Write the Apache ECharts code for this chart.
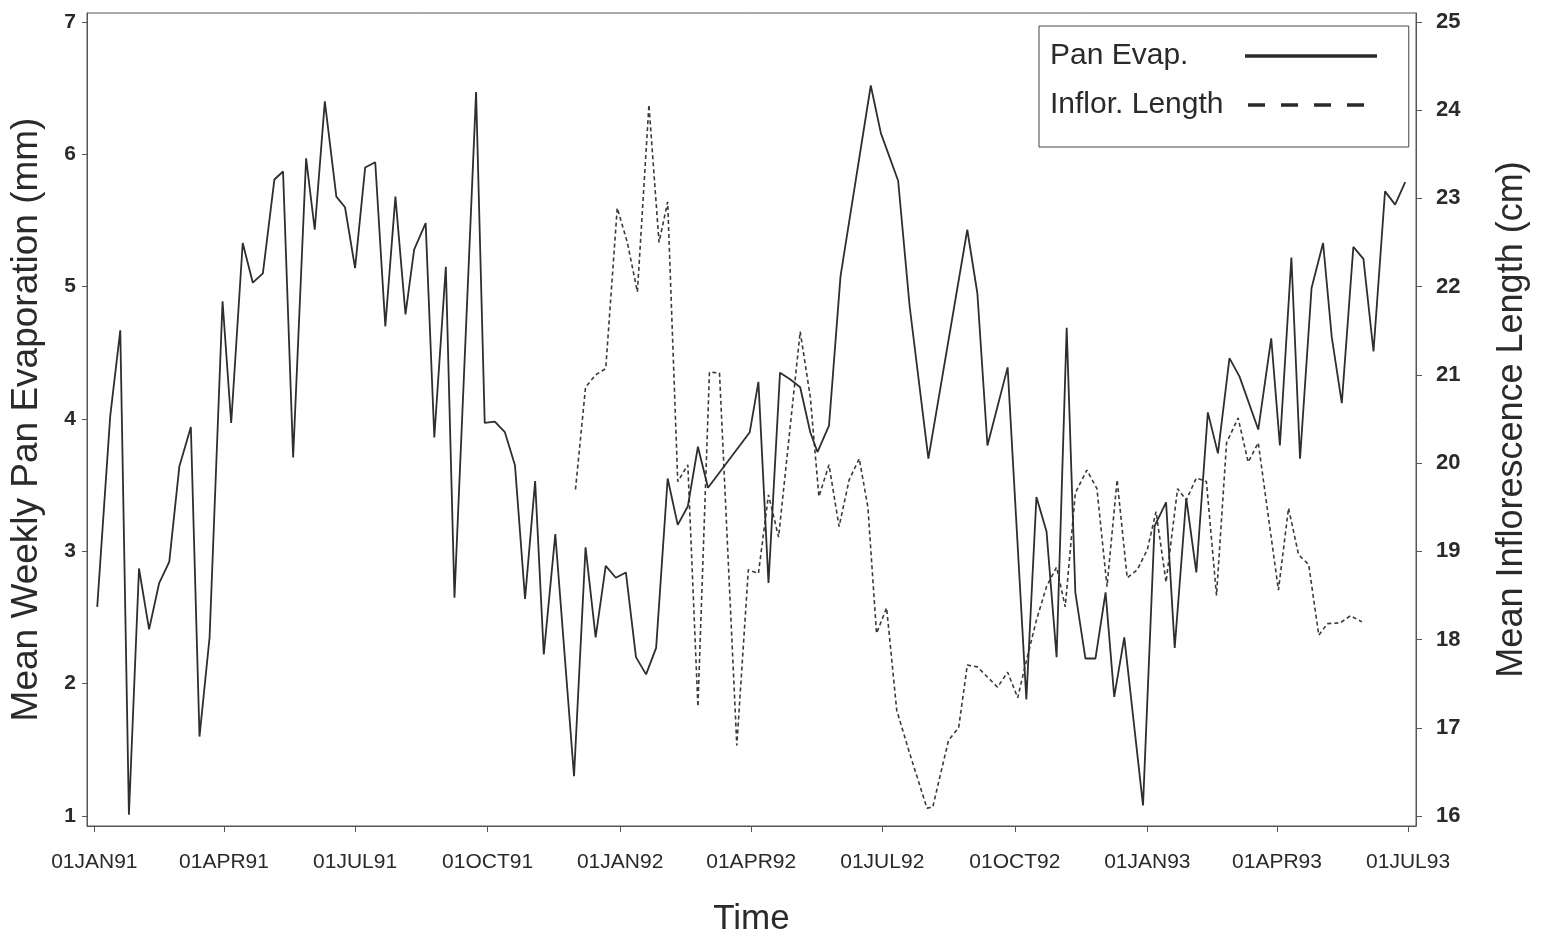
<!DOCTYPE html>
<html>
<head>
<meta charset="utf-8">
<title>Pan Evaporation and Inflorescence Length</title>
<script src="https://cdn.jsdelivr.net/npm/echarts@6/dist/echarts.min.js"></script>
<style>
  html, body { margin: 0; padding: 0; background: #fff; }
  #chart { width: 1541px; height: 936px; }
</style>
</head>
<body>
<div id="chart"></div>
<script>
// Weekly mean pan evaporation (mm), left axis
const evapDates = [
  '1991-01-03','1991-01-12','1991-01-19','1991-01-25','1991-02-01','1991-02-08','1991-02-15','1991-02-22',
  '1991-03-01','1991-03-09','1991-03-15','1991-03-22','1991-03-31','1991-04-06','1991-04-14','1991-04-21',
  '1991-04-28','1991-05-06','1991-05-12','1991-05-19','1991-05-28','1991-06-03','1991-06-10','1991-06-18',
  '1991-06-24','1991-07-01','1991-07-08','1991-07-15','1991-07-22','1991-07-29','1991-08-05','1991-08-11',
  '1991-08-19','1991-08-25','1991-09-02','1991-09-08','1991-09-23','1991-09-29','1991-10-06','1991-10-13',
  '1991-10-20','1991-10-27','1991-11-03','1991-11-09','1991-11-17','1991-11-30','1991-12-08','1991-12-15',
  '1991-12-22','1991-12-29','1992-01-05','1992-01-12','1992-01-19','1992-01-26','1992-02-03','1992-02-10',
  '1992-02-17','1992-02-24','1992-03-02','1992-03-31','1992-04-06','1992-04-13','1992-04-21','1992-04-28',
  '1992-05-05','1992-05-12','1992-05-17','1992-05-25','1992-06-02','1992-06-23','1992-06-30','1992-07-12',
  '1992-07-20','1992-08-02','1992-08-29','1992-09-05','1992-09-12','1992-09-26','1992-10-09','1992-10-16',
  '1992-10-23','1992-10-30','1992-11-06','1992-11-12','1992-11-19','1992-11-26','1992-12-03','1992-12-09',
  '1992-12-16','1992-12-29','1993-01-06','1993-01-14','1993-01-20','1993-01-28','1993-02-04','1993-02-12',
  '1993-02-19','1993-02-27','1993-03-06','1993-03-19','1993-03-28','1993-04-03','1993-04-11','1993-04-17',
  '1993-04-25','1993-05-03','1993-05-09','1993-05-16','1993-05-24','1993-05-31','1993-06-07','1993-06-15',
  '1993-06-22','1993-06-29'
];
const evapValues = [
  2.58, 4.02, 4.67, 1.01, 2.87, 2.41, 2.76, 2.92,
  3.64, 3.94, 1.60, 2.35, 4.89, 3.97, 5.33, 5.03,
  5.10, 5.81, 5.87, 3.71, 5.97, 5.43, 6.40, 5.68,
  5.60, 5.14, 5.90, 5.94, 4.70, 5.68, 4.79, 5.28,
  5.48, 3.86, 5.15, 2.65, 6.47, 3.97, 3.98, 3.90,
  3.65, 2.64, 3.53, 2.22, 3.13, 1.30, 3.03, 2.35,
  2.89, 2.80, 2.84, 2.20, 2.07, 2.27, 3.55, 3.20,
  3.34, 3.79, 3.48, 3.90, 4.28, 2.76, 4.35, 4.30,
  4.24, 3.90, 3.75, 3.95, 5.08, 6.52, 6.16, 5.80,
  4.85, 3.70, 5.43, 4.95, 3.80, 4.39, 1.88, 3.41,
  3.15, 2.20, 4.69, 2.69, 2.19, 2.19, 2.69, 1.90,
  2.35, 1.08, 3.19, 3.37, 2.27, 3.40, 2.84, 4.05,
  3.74, 4.46, 4.32, 3.92, 4.61, 3.80, 5.22, 3.70,
  4.99, 5.33, 4.62, 4.12, 5.30, 5.21, 4.51, 5.72,
  5.62, 5.79
];

// Weekly mean inflorescence length (cm), right axis
const inflorDates = [
  '1991-12-01','1991-12-08','1991-12-15','1991-12-22','1991-12-30','1992-01-06','1992-01-13','1992-01-21',
  '1992-01-28','1992-02-03','1992-02-10','1992-02-17','1992-02-24','1992-03-03','1992-03-10','1992-03-22',
  '1992-03-30','1992-04-06','1992-04-13','1992-04-20','1992-05-05','1992-05-12','1992-05-18','1992-05-25',
  '1992-06-01','1992-06-08','1992-06-15','1992-06-21','1992-06-27','1992-07-04','1992-07-11','1992-07-20',
  '1992-08-01','1992-08-05','1992-08-16','1992-08-23','1992-08-29','1992-09-05','1992-09-19','1992-09-26',
  '1992-10-03','1992-10-08','1992-10-16','1992-10-23','1992-10-30','1992-11-05','1992-11-12','1992-11-20',
  '1992-11-27','1992-12-04','1992-12-11','1992-12-18','1992-12-25','1993-01-01','1993-01-07','1993-01-14',
  '1993-01-22','1993-01-28','1993-02-04','1993-02-11','1993-02-18','1993-02-25','1993-03-05','1993-03-12',
  '1993-03-19','1993-04-02','1993-04-09','1993-04-16','1993-04-23','1993-04-30','1993-05-06','1993-05-15',
  '1993-05-22','1993-05-30'
];
const inflorValues = [
  19.70, 20.86, 21.00, 21.07, 22.89, 22.50, 21.94, 24.06,
  22.50, 22.96, 19.79, 19.98, 17.24, 21.03, 21.02, 16.80,
  18.79, 18.75, 19.64, 19.16, 21.49, 20.75, 19.62, 19.98,
  19.28, 19.81, 20.05, 19.50, 18.07, 18.36, 17.20, 16.71,
  16.09, 16.10, 16.86, 17.00, 17.71, 17.69, 17.46, 17.63,
  17.34, 17.69, 18.22, 18.60, 18.82, 18.37, 19.66, 19.92,
  19.71, 18.60, 19.81, 18.70, 18.79, 19.02, 19.45, 18.65,
  19.71, 19.58, 19.83, 19.79, 18.50, 20.23, 20.51, 20.01,
  20.23, 18.56, 19.49, 18.96, 18.85, 18.05, 18.18, 18.19,
  18.27, 18.20
];

// Axis ticks
const timeTicks = [
  '1991-01-01','1991-04-01','1991-07-01','1991-10-01','1992-01-01','1992-04-01',
  '1992-07-01','1992-10-01','1993-01-01','1993-04-01','1993-07-01'
];
const evapTicks = [1, 2, 3, 4, 5, 6, 7];
const inflorTicks = [16, 17, 18, 19, 20, 21, 22, 23, 24, 25];
const monthNames = ['JAN','FEB','MAR','APR','MAY','JUN','JUL','AUG','SEP','OCT','NOV','DEC'];

const toMs = s => Date.parse(s + 'T00:00:00Z');
const evapData = evapDates.map((d, i) => [toMs(d), evapValues[i]]);
const inflorData = inflorDates.map((d, i) => [toMs(d), inflorValues[i]]);
const DAY = 86400000;

function dateLabel(ms) {
  const dt = new Date(ms);
  const dd = String(dt.getUTCDate()).padStart(2, '0');
  const yy = String(dt.getUTCFullYear()).slice(2);
  return dd + monthNames[dt.getUTCMonth()] + yy;
}

const FONT = '"Liberation Sans", Arial, Helvetica, sans-serif';
const INK = '#2a2a2a';
const AXIS = '#555';
const HIDDEN_MARKER = { color: 'rgba(0,0,0,0)', borderWidth: 0, opacity: 0 };

const chart = echarts.init(document.getElementById('chart'), null, { renderer: 'canvas' });

chart.setOption({
  backgroundColor: '#ffffff',
  animation: false,
  textStyle: { fontFamily: FONT, color: INK },
  grid: {
    left: 87, right: 125, top: 13, bottom: 110,
    containLabel: false,
    outerBoundsMode: 'none',
    show: true, borderColor: AXIS, borderWidth: 1
  },
  legend: {
    orient: 'vertical',
    left: 1039, top: 26,
    align: 'right',
    padding: [15, 30, 27, 11],
    itemGap: 19,
    itemWidth: 132,
    itemHeight: 20,
    borderColor: '#444', borderWidth: 1,
    backgroundColor: '#fff',
    formatter: name => '{t|' + name + '}',
    textStyle: {
      fontFamily: FONT, fontSize: 30, color: INK,
      rich: { t: { fontFamily: FONT, fontSize: 30, color: INK, width: 190, align: 'left' } }
    },
    data: [
      { name: 'Pan Evap.', itemStyle: HIDDEN_MARKER, lineStyle: { width: 3.5, color: '#2a2a2a' } },
      { name: 'Inflor. Length', itemStyle: HIDDEN_MARKER, lineStyle: { width: 3.5, color: '#2a2a2a', type: [17, 16], dashOffset: 30 } }
    ]
  },
  xAxis: {
    type: 'value',
    min: toMs('1990-12-27') - 0.1 * DAY,
    max: toMs('1993-07-06') + 0.5 * DAY,
    name: 'Time',
    nameLocation: 'middle',
    nameGap: 76,
    nameTextStyle: { fontFamily: FONT, fontSize: 35, color: INK },
    splitLine: { show: false },
    axisLine: { show: true, lineStyle: { color: AXIS, width: 1 } },
    axisTick: { show: true, length: 6, inside: false, lineStyle: { color: AXIS }, customValues: timeTicks.map(toMs) },
    axisLabel: {
      customValues: timeTicks.map(toMs),
      formatter: v => dateLabel(v),
      fontFamily: FONT, fontSize: 21, color: INK, margin: 26
    }
  },
  yAxis: [
    {
      type: 'value',
      position: 'left',
      min: 0.924, max: 7.068,
      name: 'Mean Weekly Pan Evaporation (mm)',
      nameLocation: 'middle',
      nameRotate: 90,
      nameGap: 42,
      nameTextStyle: { fontFamily: FONT, fontSize: 37, color: INK },
      splitLine: { show: false },
      axisLine: { show: true, lineStyle: { color: AXIS, width: 1 } },
      axisTick: { show: true, length: 5, lineStyle: { color: AXIS }, customValues: evapTicks },
      axisLabel: { customValues: evapTicks, fontFamily: FONT, fontSize: 21, fontWeight: 'bold', color: INK, margin: 11 }
    },
    {
      type: 'value',
      position: 'right',
      min: 15.887, max: 25.10,
      name: 'Mean Inflorescence Length (cm)',
      nameLocation: 'middle',
      nameRotate: 90,
      nameGap: 78,
      nameTextStyle: { fontFamily: FONT, fontSize: 36, color: INK },
      splitLine: { show: false },
      axisLine: { show: true, lineStyle: { color: AXIS, width: 1 } },
      axisTick: { show: true, length: 6, lineStyle: { color: AXIS }, customValues: inflorTicks },
      axisLabel: { customValues: inflorTicks, fontFamily: FONT, fontSize: 22, fontWeight: 'bold', color: INK, margin: 20 }
    }
  ],
  series: [
    {
      name: 'Pan Evap.',
      type: 'line',
      yAxisIndex: 0,
      data: evapData,
      symbol: 'none',
      lineStyle: { color: '#2e2e2e', width: 1.8 },
      itemStyle: { color: '#2e2e2e' },
      z: 3
    },
    {
      name: 'Inflor. Length',
      type: 'line',
      yAxisIndex: 1,
      data: inflorData,
      symbol: 'none',
      lineStyle: { color: '#3a3a3a', width: 1.6, type: [4, 3] },
      itemStyle: { color: '#3a3a3a' },
      z: 2
    }
  ]
});
</script>
</body>
</html>
